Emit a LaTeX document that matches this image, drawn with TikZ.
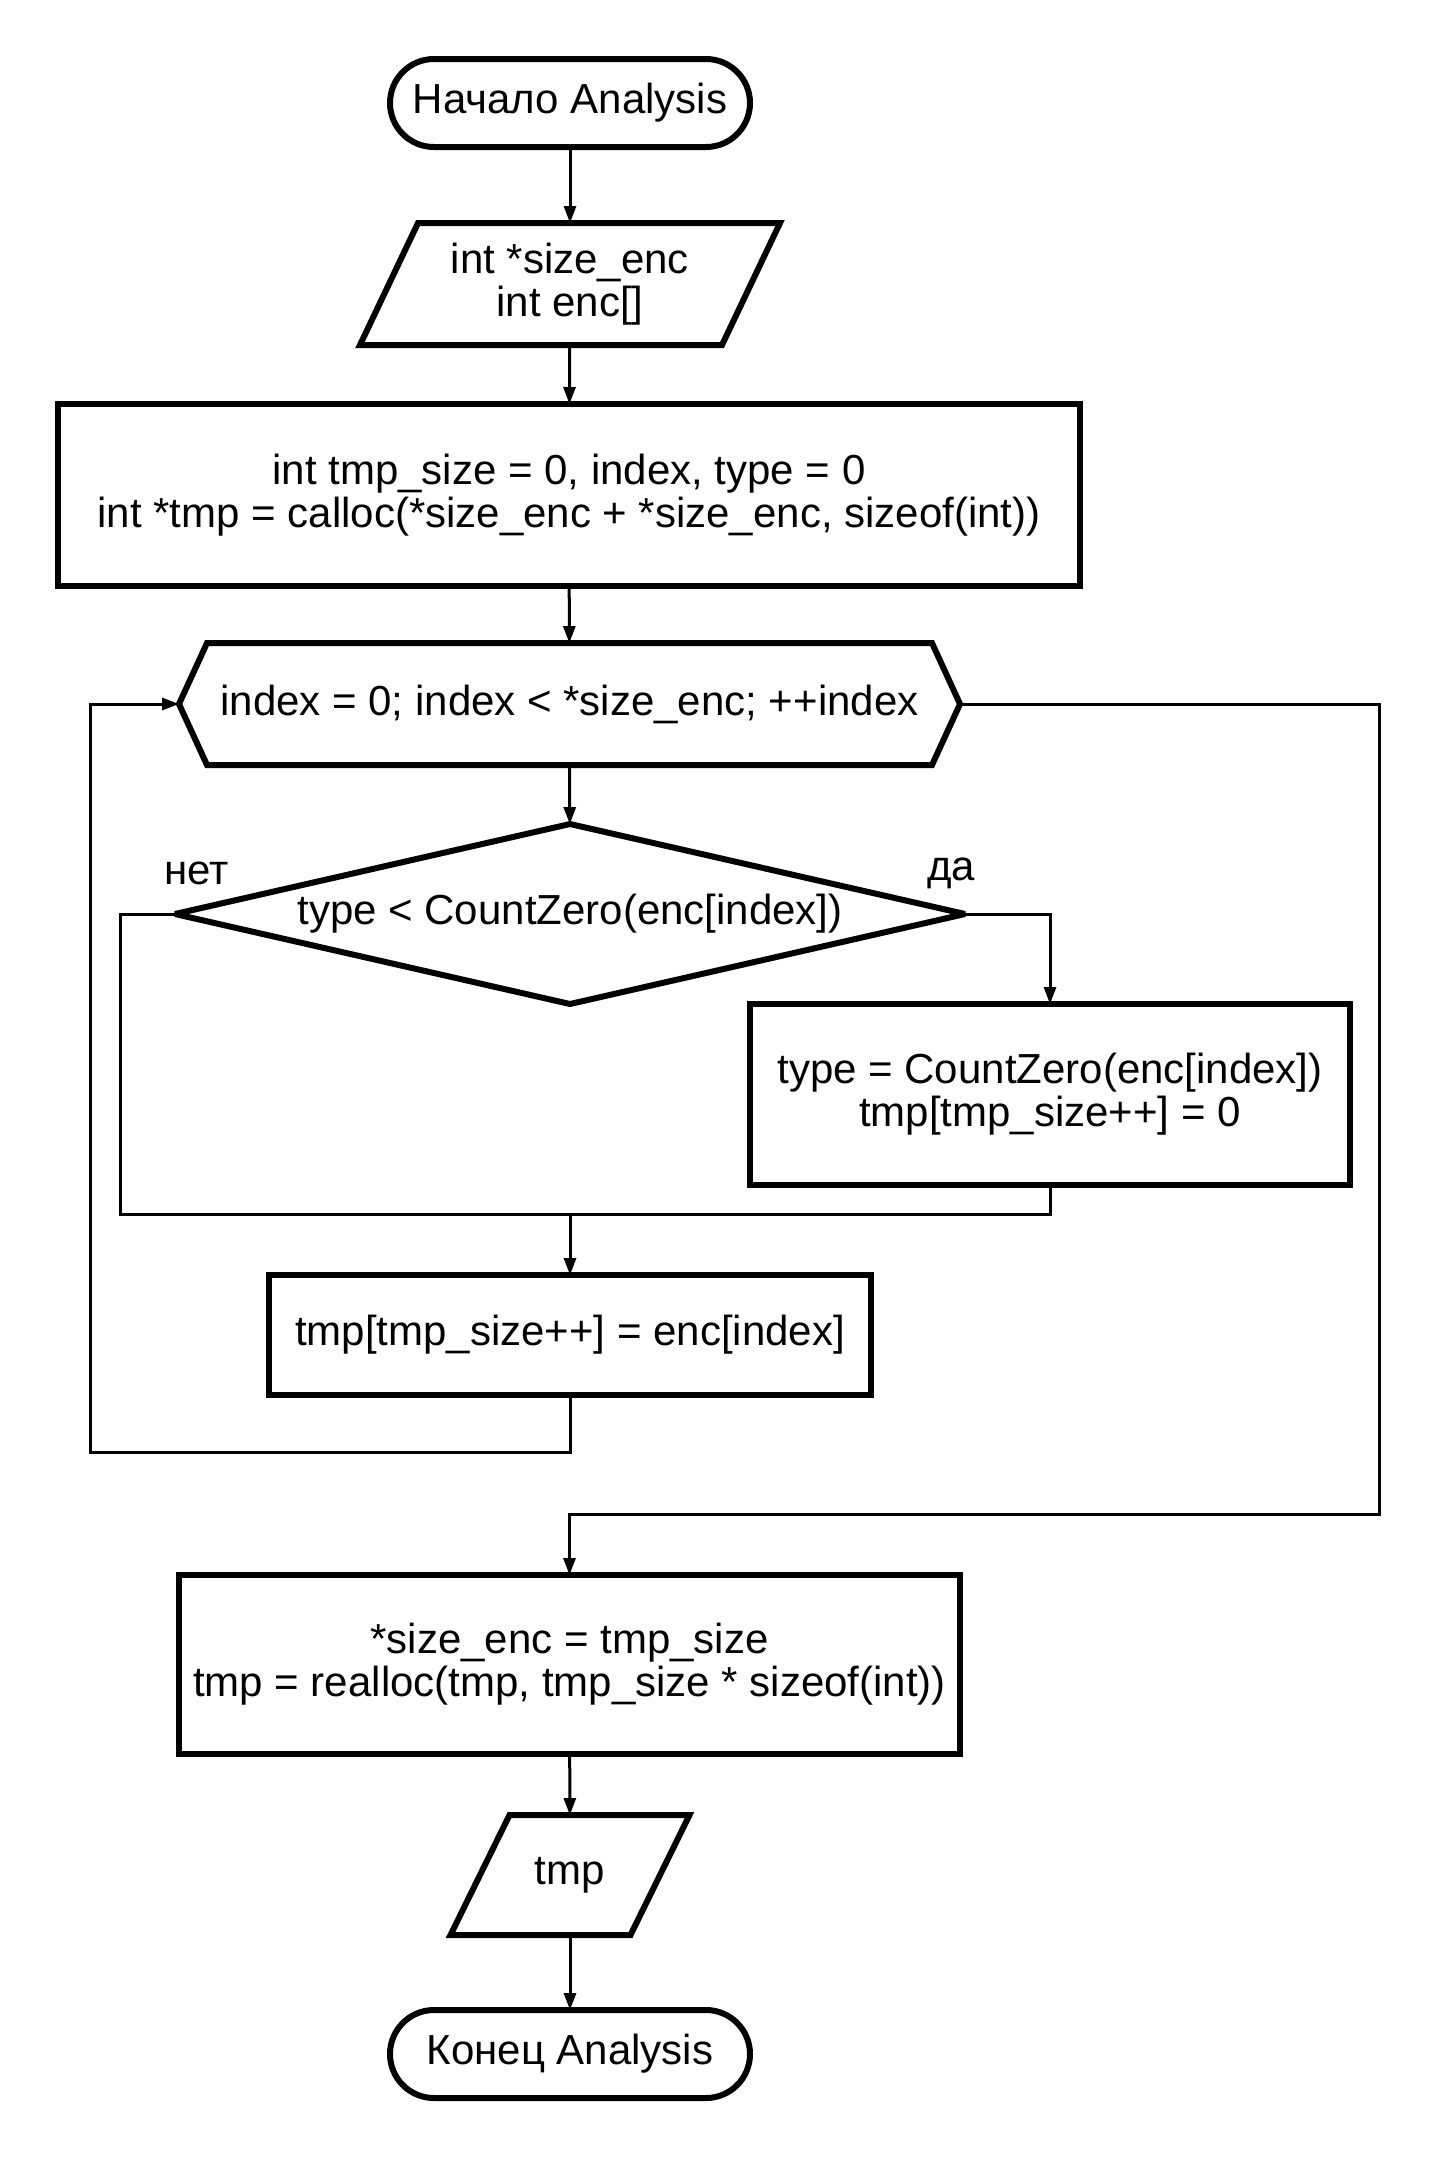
\documentclass[tikz,border=0pt]{standalone}
\usepackage{fontspec}
\setmainfont{Liberation Sans}
\usetikzlibrary{arrows.meta}
\tikzset{
  txt/.style={inner sep=0pt, outer sep=0pt, align=center, font=\fontsize{21}{21.5}\selectfont},
  term/.style={txt, draw, line width=3pt, rounded corners=22pt, minimum width=180pt, minimum height=44pt},
  block/.style={txt, draw, line width=3pt},
  shapeline/.style={line width=3pt, miter limit=3},
  line/.style={line width=1.5pt},
  arrow/.style={line, -{Triangle[length=8.5pt, width=6pt]}},
  lbl/.style={font=\fontsize{21}{21.5}\selectfont, inner sep=0pt}
}
\begin{document}
\begin{tikzpicture}[x=0.5pt, y=-0.5pt]
\useasboundingbox (0,0) rectangle (1440,2160);
% Blocks
\node[term] (start) at (570,103) {Начало Analysis};
\node[txt, minimum width=181pt, minimum height=61pt] (in) at (570,284) {int *size\_enc\\int enc[]};
\node[block, minimum width=511pt, minimum height=91pt] (init) at (569,495)
  {int tmp\_size = 0, index, type = 0\\int *tmp = calloc(*size\_enc + *size\_enc, sizeof(int))};
\node[txt, minimum width=390.5pt, minimum height=61pt] (loop) at (569.5,704)
  {index = 0; index < *size\_enc; ++index};
\node[txt, minimum width=395pt, minimum height=90pt] (cond) at (570,914)
  {type < CountZero(enc[index])};
\node[block, minimum width=300pt, minimum height=90.5pt] (yes) at (1050,1094.5)
  {type = CountZero(enc[index])\\tmp[tmp\_size++] = 0};
\node[block, minimum width=301pt, minimum height=60pt] (copy) at (570,1335)
  {tmp[tmp\_size++] = enc[index]};
\node[block, minimum width=390.5pt, minimum height=89.5pt] (fin) at (569.5,1664.5)
  {*size\_enc = tmp\_size\\tmp = realloc(tmp, tmp\_size * sizeof(int))};
\node[txt, minimum width=90pt, minimum height=60pt] (out) at (570,1875) {tmp};
\node[term] (end) at (570,2054) {Конец Analysis};
% Shapes drawn around text nodes
\draw[shapeline] ([xshift=14.5pt]in.north west) -- ([xshift=14.5pt]in.north east)
  -- ([xshift=-14.5pt]in.south east) -- ([xshift=-14.5pt]in.south west) -- cycle;
\draw[shapeline] ([xshift=14pt]loop.north west) -- ([xshift=-14pt]loop.north east) -- (loop.east)
  -- ([xshift=-14pt]loop.south east) -- ([xshift=14pt]loop.south west) -- (loop.west) -- cycle;
\draw[shapeline] (cond.north) -- (cond.east) -- (cond.south) -- (cond.west) -- cycle;
\draw[shapeline] ([xshift=14.75pt]out.north west) -- ([xshift=14.75pt]out.north east)
  -- ([xshift=-14.75pt]out.south east) -- ([xshift=-14.75pt]out.south west) -- cycle;
% Branch labels
\node[lbl] (no) at (197,873) {нет};
\node[lbl] (da) at (951,873) {да};
% Bend points
\coordinate (noleft) at (120,1214);
\coordinate (join) at (570,1214);
\coordinate (back) at (90,1452);
\coordinate (exitr) at (1379,1514);
% Connectors
\draw[arrow] (start) -- (in);
\draw[arrow] (in) -- (init);
\draw[arrow] (init) -- (loop);
\draw[arrow] (loop) -- (cond);
\draw[arrow] (cond.east) -| (yes.north);
\draw[line] (cond.west) -| (noleft) -- (join);
\draw[line] (yes.south) |- (join);
\draw[arrow] (join) -- (copy.north);
\draw[arrow] (copy.south) |- (back) |- (loop.west);
\draw[arrow] (loop.east) -| (exitr) -| (fin.north);
\draw[arrow] (fin) -- (out);
\draw[arrow] (out) -- (end);
\end{tikzpicture}
\end{document}
